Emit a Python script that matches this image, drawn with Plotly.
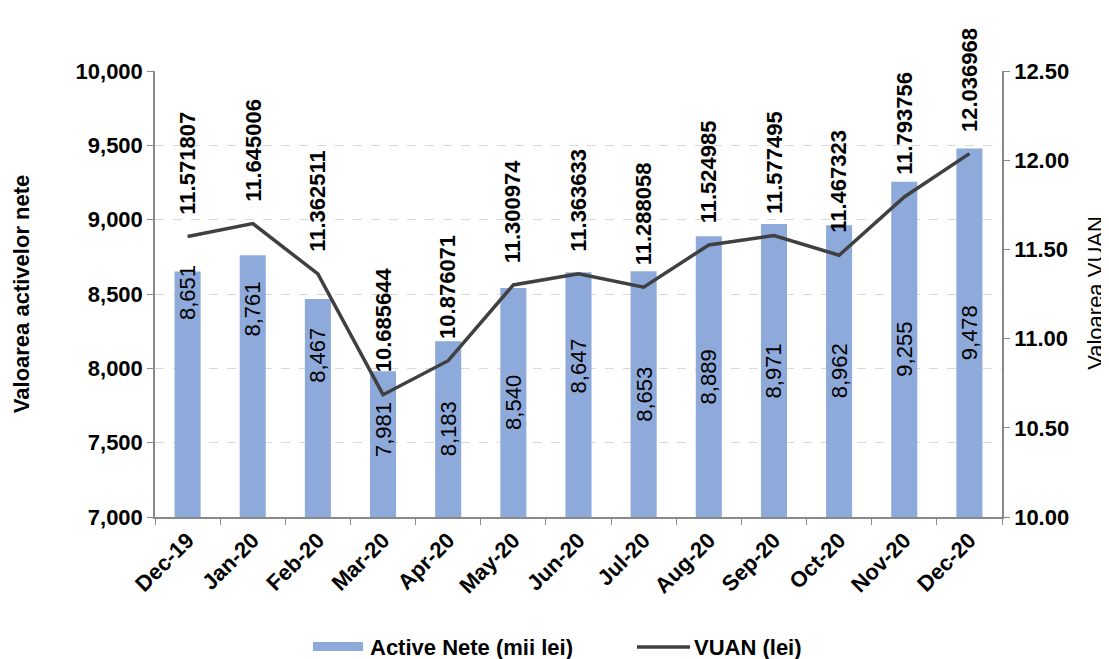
import plotly.graph_objects as go

months = ["Dec-19", "Jan-20", "Feb-20", "Mar-20", "Apr-20", "May-20", "Jun-20",
          "Jul-20", "Aug-20", "Sep-20", "Oct-20", "Nov-20", "Dec-20"]
active_nete = [8651, 8761, 8467, 7981, 8183, 8540, 8647, 8653, 8889, 8971, 8962, 9255, 9478]
vuan = [11.571807, 11.645006, 11.362511, 10.685644, 10.876071, 11.300974, 11.363633,
        11.288058, 11.524985, 11.577495, 11.467323, 11.793756, 12.036968]
vuan_labels = ["11.571807", "11.645006", "11.362511", "10.685644", "10.876071", "11.300974",
               "11.363633", "11.288058", "11.524985", "11.577495", "11.467323", "11.793756",
               "12.036968"]
# bar labels sit mid-bar, except a few that were moved by hand in the original
bar_label_moved = {"Dec-19": 8510, "Jan-20": 8400, "Feb-20": 8090, "Mar-20": 7585, "Jun-20": 8016}

Y_MIN, Y_MAX = 7000, 10000
FONT = "Liberation Sans, Arial, sans-serif"
FS = 22

fig = go.Figure()
fig.add_trace(go.Bar(
    x=months, y=active_nete, name="Active Nete (mii lei)",
    marker=dict(color="#8eaadb", line=dict(width=0)), showlegend=False,
))
fig.add_trace(go.Scatter(
    x=months, y=vuan, name="VUAN (lei)", yaxis="y2", mode="lines",
    line=dict(color="#404040", width=3.5), showlegend=False,
))

for m, v in zip(months, active_nete):
    ly = bar_label_moved.get(m, (Y_MIN + v) / 2)
    fig.add_annotation(
        x=m, y=ly, xref="x", yref="y", text=f"{v:,}", showarrow=False,
        textangle=-90, xanchor="center", yanchor="middle",
        font=dict(family=FONT, size=FS, color="black"),
    )

for m, v, lab in zip(months, vuan, vuan_labels):
    fig.add_annotation(
        x=m, y=v, xref="x", yref="y2", text="<b>%s</b>" % lab, showarrow=False,
        textangle=-90, xanchor="center", yanchor="bottom", yshift=20,
        font=dict(family=FONT, size=FS, color="black"),
    )

fig.add_annotation(xref="paper", yref="paper", x=-0.158, y=0.5, text="<b>Valoarea activelor nete</b>",
                   textangle=-90, showarrow=False, xanchor="center", yanchor="middle",
                   font=dict(family=FONT, size=FS, color="black"))
fig.add_annotation(xref="paper", yref="paper", x=1.110, y=0.503, text="Valoarea VUAN",
                   textangle=-90, showarrow=False, xanchor="center", yanchor="middle",
                   font=dict(family=FONT, size=FS, color="black"))

# legend (drawn by hand so the bar key is a wide swatch)
fig.add_shape(type="rect", xref="paper", yref="paper", x0=0.1865, x1=0.2456, y0=-0.3004, y1=-0.2803,
              fillcolor="#8eaadb", line=dict(width=0))
fig.add_shape(type="line", xref="paper", yref="paper", x0=0.569, x1=0.6316, y0=-0.2915, y1=-0.2915,
              line=dict(color="#404040", width=3.5))
fig.add_annotation(xref="paper", yref="paper", x=0.2515, y=-0.2915, text="<b>Active Nete (mii lei)</b>",
                   showarrow=False, xanchor="left", yanchor="middle",
                   font=dict(family=FONT, size=FS, color="black"))
fig.add_annotation(xref="paper", yref="paper", x=0.634, y=-0.2915, text="<b>VUAN (lei)</b>",
                   showarrow=False, xanchor="left", yanchor="middle",
                   font=dict(family=FONT, size=FS, color="black"))

# page body has an 8px margin, so the figure is 8px smaller and offsets are reduced
fig.update_layout(
    width=1101, height=651,
    margin=dict(l=147, r=107, t=63, b=142, autoexpand=False),
    plot_bgcolor="white", paper_bgcolor="white",
    bargap=0.6,
    showlegend=False,
    font=dict(family=FONT, size=FS, color="black"),
    xaxis=dict(type="category", tickangle=-45, tickson="boundaries", ticks="outside",
               ticklen=6, tickcolor="#898989", showline=True, linecolor="#898989", linewidth=1.5,
               tickfont=dict(family=FONT, size=FS, color="black", weight="bold"),
               showgrid=False, automargin=False),
    yaxis=dict(range=[Y_MIN, Y_MAX], dtick=500, tickformat=",", ticks="outside", ticklen=6,
               tickcolor="#898989", showline=True, linecolor="#898989", linewidth=1.5,
               showgrid=True, gridcolor="#d9d9d9", griddash="dash", gridwidth=1,
               tickfont=dict(family=FONT, size=FS, color="black", weight="bold"),
               zeroline=False, automargin=False),
    yaxis2=dict(range=[10, 12.5], dtick=0.5, tickformat=".2f", overlaying="y", side="right",
                ticks="outside", ticklen=6, tickcolor="#898989", showline=True,
                linecolor="#898989", linewidth=1.5, showgrid=False, zeroline=False,
                tickfont=dict(family=FONT, size=FS, color="black", weight="bold"),
                automargin=False),
)

fig.write_html("out.html")
